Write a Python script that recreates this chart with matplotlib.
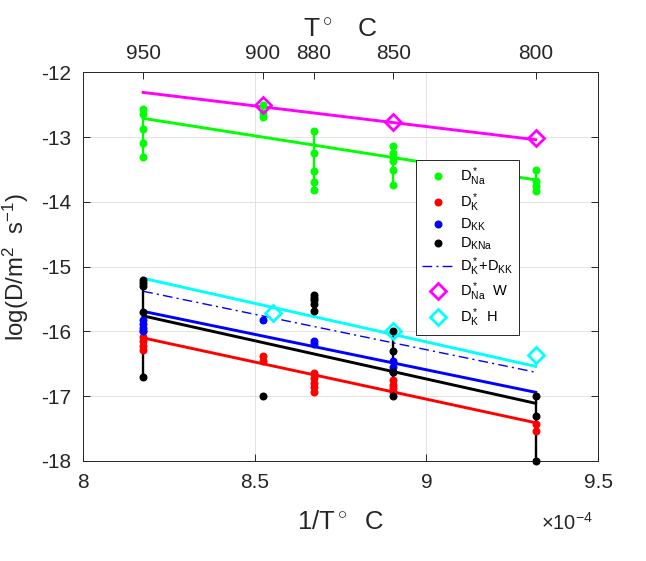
import numpy as np
import matplotlib.pyplot as plt
from matplotlib.ticker import FuncFormatter, FixedLocator

plt.rcParams['font.family'] = ['Liberation Sans', 'DejaVu Sans']
plt.rcParams['mathtext.fontset'] = 'custom'
plt.rcParams['mathtext.rm'] = 'Liberation Sans'
plt.rcParams['mathtext.it'] = 'Liberation Sans:italic'
plt.rcParams['mathtext.bf'] = 'Liberation Sans:bold'
plt.rcParams['axes.unicode_minus'] = False

# temperatures of the measurement clusters (deg C)
temps = [950, 900, 880, 850, 800]

# log D values read at each temperature
d_na_star = [[-12.56, -12.65, -12.88, -13.09, -13.31],
             [-12.50, -12.62, -12.69],
             [-12.91, -13.24, -13.53, -13.69, -13.81],
             [-13.14, -13.24, -13.31, -13.37, -13.51, -13.74],
             [-13.50, -13.68, -13.75, -13.83]]
d_k_star = [[-16.00, -16.08, -16.15, -16.22, -16.28],
            [-16.38, -16.45],
            [-16.64, -16.72, -16.79, -16.86, -16.93],
            [-16.75, -16.82, -16.88, -16.94],
            [-17.43, -17.53]]
d_kk = [[-15.82, -15.88, -15.95, -15.99],
        [-15.82],
        [-16.15, -16.19],
        [-16.45, -16.55, -16.62],
        []]
d_kna = [[-15.20, -15.25, -15.30, -15.70, -16.70],
         [-17.00],
         [-15.44, -15.48, -15.51, -15.58, -15.69],
         [-16.00, -16.30, -16.62, -17.00],
         [-17.00, -17.30, -18.00]]

# fitted lines, values at 950 and 800 C
fit_temps = [950, 800]
fit_na = [-12.71, -13.66]
fit_k = [-16.10, -17.41]
fit_kk = [-15.69, -16.94]
fit_kna = [-15.76, -17.11]
fit_sum = [-15.38, -16.63]
fit_w = [-12.31, -13.04]
fit_h = [-15.18, -16.54]

# literature values
w_temps = [900, 850, 800]
w_vals = [-12.50, -12.77, -13.02]
h_temps = [896, 850, 800]
h_vals = [-15.72, -16.00, -16.37]

top_ticks = [950, 900, 880, 850, 800]


def inv_t(t):
    return 1.0 / (np.asarray(t, dtype=float) + 273.15)


def to_c(x):
    x = np.asarray(x, dtype=float)
    with np.errstate(divide='ignore', invalid='ignore'):
        return 1.0 / x - 273.15


fig = plt.figure(figsize=(6.46, 5.61), dpi=100)
ax = fig.add_axes([0.1283, 0.1783, 0.7975, 0.6927])

handles = []
series = [(d_na_star, fit_na, (0, 1, 0)),
          (d_k_star, fit_k, (1, 0, 0)),
          (d_kk, fit_kk, (0, 0, 1)),
          (d_kna, fit_kna, (0, 0, 0))]
for vals, fit, col in series:
    h = None
    for t, ys in zip(temps, vals):
        if len(ys) == 0:
            continue
        x = inv_t(t)
        if len(ys) > 1:
            ax.plot([x, x], [min(ys), max(ys)], color=col, lw=1.7, zorder=3)
        h, = ax.plot([x] * len(ys), ys, '.', color=col, ms=9.5, zorder=4,
                     clip_on=False)
    ax.plot(inv_t(fit_temps), fit, color=col, lw=2.1, zorder=3)
    handles.append(h)

h_sum, = ax.plot(inv_t(fit_temps), fit_sum, color=(0, 0, 1), lw=1.0,
                 dashes=(7, 3, 1.5, 3), zorder=3)
handles.append(h_sum)

ax.plot(inv_t(fit_temps), fit_w, color=(1, 0, 1), lw=2.1, zorder=3)
h_w, = ax.plot(inv_t(w_temps), w_vals, 'D', ls='none', mfc='none', mec=(1, 0, 1),
               mew=2, ms=8.5, zorder=5)
handles.append(h_w)
ax.plot(inv_t(fit_temps), fit_h, color=(0, 1, 1), lw=2.1, zorder=3)
h_h, = ax.plot(inv_t(h_temps), h_vals, 'D', ls='none', mfc='none', mec=(0, 1, 1),
               mew=2, ms=8.5, zorder=5)
handles.append(h_h)

labels = [r'$\mathrm{D^*_{Na}}$', r'$\mathrm{D^*_K}$', r'$\mathrm{D_{KK}}$',
          r'$\mathrm{D_{KNa}}$', r'$\mathrm{D^*_K}$+$\mathrm{D_{KK}}$',
          r'$\mathrm{D^*_{Na}}$  W', r'$\mathrm{D^*_K}$  H']

ax.set_xlim(8e-4, 9.5e-4)
ax.set_ylim(-18, -12)
ax.xaxis.set_major_locator(FixedLocator([8e-4, 8.5e-4, 9e-4, 9.5e-4]))
ax.xaxis.set_major_formatter(FuncFormatter(lambda v, p: '%g' % round(v * 1e4, 3)))
ax.set_yticks(np.arange(-18, -11))
ax.grid(True, color='#e3e3e3', lw=0.7, zorder=0)
ax.set_axisbelow(True)
for s in ax.spines.values():
    s.set_color('#262626')
    s.set_linewidth(0.7)
ax.tick_params(axis='both', direction='in', length=5, width=0.7, colors='#262626',
               labelsize=15, right=True, top=False)
ax.tick_params(axis='x', pad=9)
ax.tick_params(axis='y', pad=8.5)

sec = ax.secondary_xaxis('top', functions=(to_c, inv_t))
sec.set_xticks(top_ticks)
sec.set_xticklabels([str(t) for t in top_ticks])
sec.tick_params(direction='in', length=5, width=0.7, colors='#262626',
                labelsize=15, pad=7)
sec.spines['top'].set_color('#262626')
sec.spines['top'].set_linewidth(0.7)

ax.set_xlabel(r'1/T$^\circ$  C', fontsize=18.5, color='#262626')
ax.xaxis.label.set_va('baseline')
ax.xaxis.set_label_coords(0.5, -0.174)
ax.set_ylabel(r'log(D/m$^{2}$  s$^{-1}$)', fontsize=17.3, color='#262626')
ax.yaxis.set_label_coords(-0.1, 0.5)
fig.text(0.527, 0.934, r'T$^\circ$   C', fontsize=19, color='#262626',
         ha='center', va='baseline')
ax.text(0.991, -0.176, r'$\times$10$^{-4}$', transform=ax.transAxes,
        fontsize=14.5, color='#262626', ha='right', va='baseline')

leg = ax.legend(handles, labels, loc='upper left', bbox_to_anchor=(0.646, 0.775),
                borderaxespad=0, fancybox=False, edgecolor='#262626',
                framealpha=1, fontsize=10.5, handlelength=2.2, handletextpad=0.42,
                labelspacing=0.2, borderpad=0.4)
leg.get_frame().set_linewidth(0.7)

fig.savefig('out.png', dpi=100)
